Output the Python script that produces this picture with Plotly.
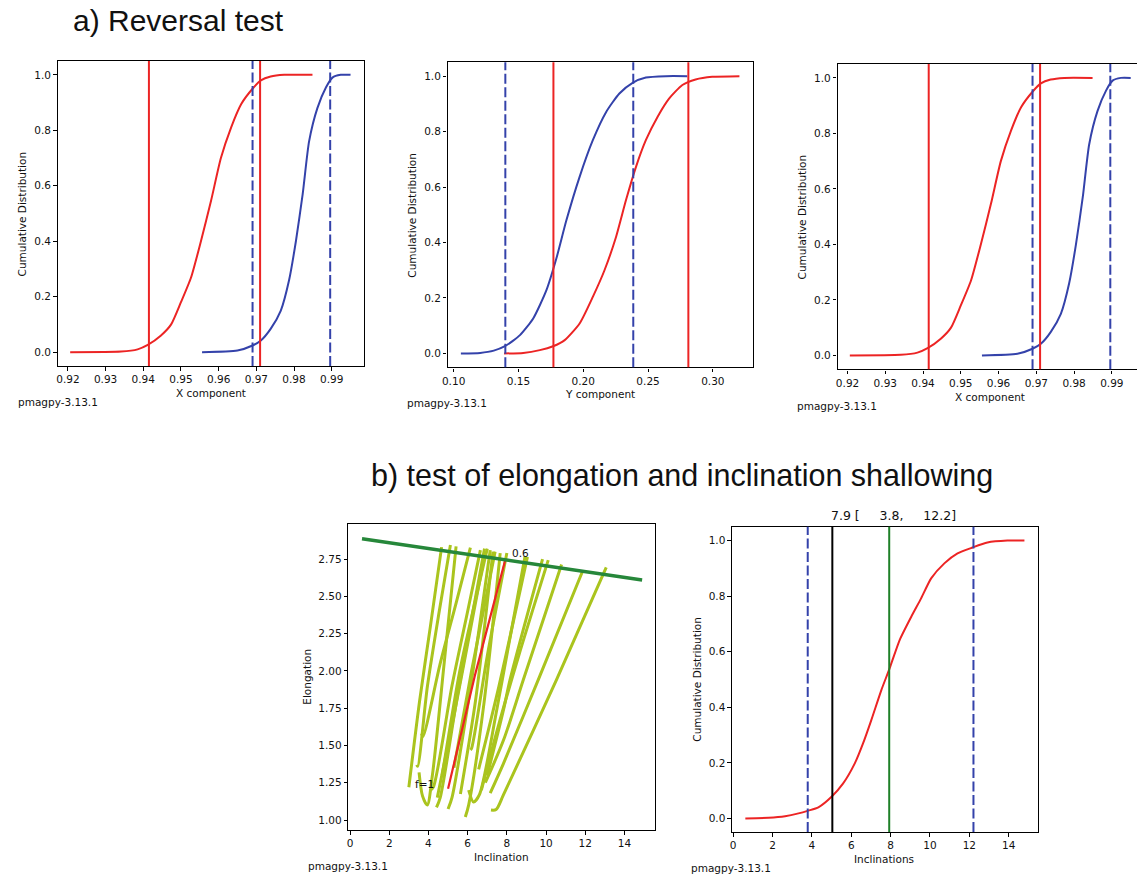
import plotly.graph_objects as go

FIG_W, FIG_H = 1137, 874

# ---------------- data ----------------
# a) Reversal test - X component (panels 1 and 3)
x_comp_red = [0.9206, 0.9341, 0.9385, 0.9412, 0.9447, 0.9474, 0.9500, 0.9527, 0.9553, 0.9580,
              0.9606, 0.9633, 0.9660, 0.9690, 0.9712, 0.9738, 0.9774, 0.9849]
x_cdf_red = [0.0, 0.002, 0.010, 0.026, 0.060, 0.100, 0.180, 0.270, 0.400, 0.547,
             0.700, 0.810, 0.895, 0.950, 0.980, 0.994, 1.0, 1.0]
x_comp_blue = [0.9556, 0.9650, 0.9690, 0.9712, 0.9738, 0.9765, 0.9787, 0.9805, 0.9823, 0.9840,
               0.9862, 0.9885, 0.9902, 0.9924, 0.9950]
x_cdf_blue = [0.0, 0.006, 0.024, 0.042, 0.084, 0.150, 0.260, 0.400, 0.570, 0.760,
              0.880, 0.955, 0.990, 1.0, 1.0]
x_red_bounds = [0.9415, 0.9710]
x_blue_bounds = [0.9690, 0.9896]

# a) Reversal test - Y component (panel 2)
y_comp_blue = [0.1056, 0.1205, 0.1310, 0.1396, 0.1512, 0.1614, 0.1716, 0.1793, 0.1870, 0.1972,
               0.2074, 0.2177, 0.2279, 0.2381, 0.2483, 0.2637, 0.2803]
y_cdf_blue = [0.0, 0.002, 0.010, 0.026, 0.066, 0.126, 0.228, 0.343, 0.480, 0.637,
              0.769, 0.871, 0.9375, 0.976, 0.995, 1.0, 1.0]
y_comp_red = [0.1389, 0.1537, 0.1665, 0.1767, 0.1857, 0.1972, 0.2074, 0.2164, 0.2253, 0.2330,
              0.2407, 0.2483, 0.2573, 0.2662, 0.2765, 0.2867, 0.2995, 0.3205]
y_cdf_red = [0.0, 0.002, 0.012, 0.026, 0.048, 0.108, 0.204, 0.300, 0.420, 0.553,
             0.673, 0.769, 0.853, 0.919, 0.968, 0.988, 0.9976, 1.0]
y_red_bounds = [0.1770, 0.2811]
y_blue_bounds = [0.1399, 0.2386]

# b) Elongation / inclination bootstrap curves (panel 4)
boot_inc = [
    [3.00, 3.55, 4.10, 4.67],
    [3.40, 3.45, 3.95, 4.55, 5.12],
    [3.52, 3.70, 3.94, 4.20, 4.80, 5.41],
    [3.65, 3.72, 4.60, 5.40, 6.14],
    [4.11, 4.25, 5.20, 6.00, 6.65],
    [4.41, 4.60, 5.50, 6.86],
    [5.00, 5.20, 6.10, 7.15],
    [5.63, 6.40, 7.29],
    [5.88, 6.05, 6.80, 7.66],
    [6.14, 6.20, 7.00, 8.00],
    [6.05, 6.30, 6.60, 7.50, 8.93],
    [6.56, 7.60, 9.05],
    [7.00, 7.83, 8.16, 9.82],
    [6.90, 7.83, 8.84, 10.79],
    [7.15, 7.83, 9.60, 11.85],
    [7.19, 7.45, 7.83, 10.53, 13.07],
    [4.70, 5.60, 6.30, 7.00],
    [5.30, 6.20, 7.40],
    [4.45, 5.30, 6.10, 6.90],
    [6.70, 7.50, 8.60, 10.11],
]
boot_elong = [
    [1.22, 1.80, 2.30, 2.83],
    [1.37, 1.36, 1.90, 2.40, 2.845],
    [1.32, 1.16, 1.10, 1.30, 2.05, 2.835],
    [1.58, 1.56, 2.05, 2.45, 2.826],
    [1.20, 1.22, 1.90, 2.40, 2.81],
    [1.085, 1.15, 1.85, 2.82],
    [1.074, 1.15, 1.85, 2.81],
    [1.175, 1.80, 2.80],
    [1.02, 1.10, 1.75, 2.79],
    [1.47, 1.48, 2.10, 2.79],
    [1.20, 1.12, 1.17, 1.75, 2.77],
    [1.34, 1.90, 2.765],
    [1.30, 1.74, 1.94, 2.75],
    [1.25, 1.536, 1.94, 2.714],
    [1.18, 1.38, 1.94, 2.665],
    [1.067, 1.07, 1.17, 1.94, 2.694],
    [1.30, 2.00, 2.42, 2.82],
    [1.35, 2.00, 2.80],
    [1.15, 1.70, 2.25, 2.80],
    [1.20, 1.60, 2.10, 2.743],
]
orig_inc = [5.00, 6.39, 7.91]
orig_elong = [1.21, 1.98, 2.74]
tk03_inc = [0.61, 14.90]
tk03_elong = [2.886, 2.609]
f_start_label = "f=1"
f_end_label = "0.6"

# b) Cumulative distribution of unflattened inclinations (panel 5)
incl_values = [0.62, 1.80, 2.64, 3.32, 3.82, 4.33, 5.00, 5.59, 6.18, 6.60, 7.02, 7.53, 7.95,
               8.46, 9.05, 9.55, 10.06, 10.73, 11.40, 12.16, 12.92, 13.93, 14.80]
incl_cdf = [0.0, 0.0024, 0.008, 0.018, 0.028, 0.040, 0.078, 0.126, 0.198, 0.270, 0.354, 0.462, 0.540,
            0.642, 0.726, 0.792, 0.864, 0.918, 0.954, 0.975, 0.993, 1.0, 1.0]
incl_bounds = [3.79, 12.21]
incl_original = 5.04
incl_corrected = 7.93

cdf_ticks = [0.0, 0.2, 0.4, 0.6, 0.8, 1.0]
x_ticks = [0.92, 0.93, 0.94, 0.95, 0.96, 0.97, 0.98, 0.99]
y_ticks = [0.10, 0.15, 0.20, 0.25, 0.30]
inc_ticks = [0, 2, 4, 6, 8, 10, 12, 14]
elong_ticks = [1.00, 1.25, 1.50, 1.75, 2.00, 2.25, 2.50, 2.75]

# ---------------- styles ----------------
RED = "rgb(236,36,36)"
BLUE = "rgb(52,66,170)"
YG = "rgb(170,196,30)"
DGREEN = "rgb(38,135,58)"
GREEN = "rgb(30,128,40)"
TICKFONT = dict(family="DejaVu Sans", size=10.5, color="#111")


def px_x(px):
    return px / FIG_W


def px_y(py):
    return 1 - py / FIG_H


fig = go.Figure()


def line(x, y, ax, color, width=2, smooth=0.6):
    xa = "x" if ax == 1 else f"x{ax}"
    ya = "y" if ax == 1 else f"y{ax}"
    ln = dict(color=color, width=width)
    if smooth:
        ln.update(shape="spline", smoothing=smooth)
    fig.add_trace(go.Scatter(x=x, y=y, xaxis=xa, yaxis=ya, mode="lines", line=ln,
                             showlegend=False, hoverinfo="skip"))


shapes = []


def vline(xv, ax, color, dash=None, width=2):
    xa = "x" if ax == 1 else f"x{ax}"
    ya = "y" if ax == 1 else f"y{ax}"
    shapes.append(dict(type="line", xref=xa, yref=f"{ya} domain", x0=xv, x1=xv, y0=0, y1=1,
                       line=dict(color=color, width=width, dash=dash)))


DASH = "10px,3.5px"

# panel 1 & 3
for ax in (1, 3):
    line(x_comp_red, x_cdf_red, ax, RED)
    line(x_comp_blue, x_cdf_blue, ax, BLUE)
    for v in x_red_bounds:
        vline(v, ax, RED)
    for v in x_blue_bounds:
        vline(v, ax, BLUE, DASH)

# panel 2
line(y_comp_blue, y_cdf_blue, 2, BLUE)
line(y_comp_red, y_cdf_red, 2, RED)
for v in y_blue_bounds:
    vline(v, 2, BLUE, DASH)
for v in y_red_bounds:
    vline(v, 2, RED)

# panel 4
for xi, yi in zip(boot_inc, boot_elong):
    line(xi, yi, 4, YG, width=3, smooth=0.8)
line(orig_inc, orig_elong, 4, RED, width=2.2, smooth=0)
line(tk03_inc, tk03_elong, 4, DGREEN, width=3.5, smooth=0)

# panel 5
line(incl_values, incl_cdf, 5, RED)
for v in incl_bounds:
    vline(v, 5, BLUE, DASH)
vline(incl_original, 5, "black")
vline(incl_corrected, 5, GREEN)


def axis(domain, rng, ticks, fmt, anchor, mirror=True):
    return dict(domain=domain, range=rng, anchor=anchor, tickvals=ticks, tickformat=fmt,
                showline=True, linecolor="black", linewidth=1.4, mirror=mirror,
                ticks="outside", ticklen=3.5, tickwidth=1, tickcolor="black",
                showgrid=False, zeroline=False, tickfont=TICKFONT, fixedrange=True)


layout = dict(
    width=FIG_W, height=FIG_H, margin=dict(l=0, r=0, t=0, b=0),
    paper_bgcolor="white", plot_bgcolor="white", showlegend=False,
    xaxis=axis([px_x(52), px_x(360)], [0.9173, 0.9986], x_ticks, ".2f", "y"),
    yaxis=axis([px_y(366), px_y(61)], [-0.05, 1.05], cdf_ticks, ".1f", "x"),
    xaxis2=axis([px_x(444), px_x(751)], [0.0954, 0.331], y_ticks, ".2f", "y2"),
    yaxis2=axis([px_y(367.3), px_y(62.3)], [-0.05, 1.05], cdf_ticks, ".1f", "x2"),
    xaxis3=axis([px_x(836), 1.0], [0.91736, 0.99667], x_ticks, ".2f", "y3"),
    yaxis3=axis([px_y(369.3), px_y(64)], [-0.05, 1.05], cdf_ticks, ".1f", "x3", mirror=False),
    xaxis4=axis([px_x(344.3), px_x(652.3)], [-0.08, 15.55], inc_ticks, "d", "y4"),
    yaxis4=axis([px_y(830), px_y(524.3)], [0.933, 2.983], elong_ticks, ".2f", "x4"),
    xaxis5=axis([px_x(730), px_x(1037.3)], [-0.05, 15.48], inc_ticks, "d", "y5"),
    yaxis5=axis([px_y(832), px_y(526.7)], [-0.049, 1.05], cdf_ticks, ".1f", "x5"),
    shapes=shapes,
)

ann = []


def text(t, px, py, size=10.5, xanchor="center", angle=0, family="DejaVu Sans"):
    ann.append(dict(text=t, x=px_x(px), y=px_y(py), xref="paper", yref="paper",
                    showarrow=False, xanchor=xanchor, yanchor="middle", textangle=angle,
                    font=dict(family=family, size=size, color="#111")))


# main titles
text("a) Reversal test", 65, 21, size=30, xanchor="left", family="Liberation Sans, Arial")
text("b) test of elongation and inclination shallowing", 680, 475, size=30.5,
     family="Liberation Sans, Arial")

# axis titles
text("X component", 206, 393)
text("Y component", 597, 394.3)
text("X component", 989, 396.7)
text("Inclination", 498, 857)
text("Inclinations", 883, 859.3)
text("Cumulative Distribution", 17, 213.5, angle=-90)
text("Cumulative Distribution", 408, 214.8, angle=-90)
text("Cumulative Distribution", 800, 216.6, angle=-90)
text("Elongation", 302.3, 677, angle=-90)
text("Cumulative Distribution", 695, 679.3, angle=-90)

# version stamps
text("pmagpy-3.13.1", 10, 401.7, xanchor="left")
text("pmagpy-3.13.1", 401, 402.7, xanchor="left")
text("pmagpy-3.13.1", 793, 405.7, xanchor="left")
text("pmagpy-3.13.1", 302, 866, xanchor="left")
text("pmagpy-3.13.1", 687, 868.3, xanchor="left")

# panel 5 title
nb = "\u00a0"
title5 = f"{incl_corrected:.1f} [{nb*5}{incl_bounds[0]:.1f},{nb*5}{incl_bounds[1]:.1f}]"
text(title5, 892, 515.7, size=12.5)

# panel 4 labels
ann.append(dict(text=f_start_label, x=3.23, y=1.241, xref="x4", yref="y4", showarrow=False,
                xanchor="left", yanchor="middle", font=dict(family="DejaVu Sans", size=10.5, color="#111")))
ann.append(dict(text=f_end_label, x=8.17, y=2.788, xref="x4", yref="y4", showarrow=False,
                xanchor="left", yanchor="middle", font=dict(family="DejaVu Sans", size=10.5, color="#111")))

layout["annotations"] = ann
fig.update_layout(**layout)

fig.write_html("out.html", config={"displayModeBar": False},
               post_script="document.body.style.margin='0';document.body.style.overflow='hidden';")
